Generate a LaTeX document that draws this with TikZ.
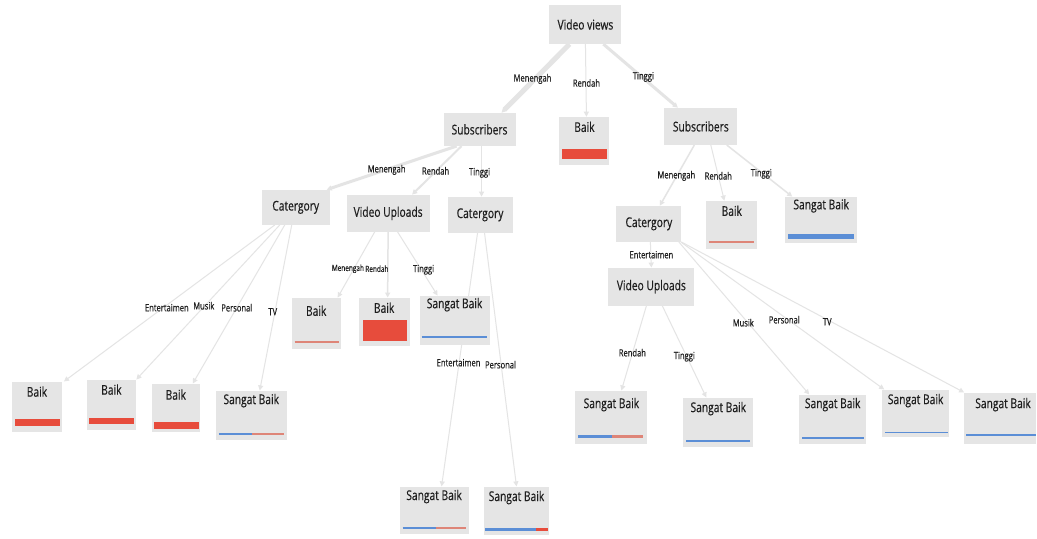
\documentclass[tikz,border=0pt]{standalone}
\usepackage{fontspec}
\setmainfont{Open Sans}[FakeStretch=0.76, FakeBold=0.4]
\usetikzlibrary{arrows.meta}
\pgfdeclarelayer{edgelayer}
\pgfsetlayers{edgelayer,main}
\definecolor{boxgray}{HTML}{E5E5E5}
\definecolor{edgegray}{HTML}{E4E4E4}
\definecolor{barred}{HTML}{E74C3C}
\definecolor{thinred}{HTML}{DE8578}
\definecolor{barblue}{HTML}{5B8ED6}
\definecolor{txt}{HTML}{1E1E1E}
\tikzset{
  box/.style={fill=boxgray, draw=none, inner sep=0pt, text=txt, font=\fontsize{13.5}{14}\selectfont},
  lbl/.style={inner sep=0pt, text=txt, font=\fontsize{13.5}{14}\selectfont},
  elbl/.style={inner sep=0pt, text=txt, font=\fontsize{10}{11}\selectfont},
  selbl/.style={inner sep=0pt, text=txt, font=\fontsize{8.5}{9}\selectfont},
  edge/.style={draw=edgegray, line width=1pt, -{Triangle[length=5pt,width=5pt]}},
}
\begin{document}
\begin{tikzpicture}[x=1pt,y=-1pt]
\begin{pgfonlayer}{edgelayer}
\useasboundingbox[fill=white] (0,0) rectangle (1037,539);
\end{pgfonlayer}

% internal nodes
\node[box, minimum width=72pt, minimum height=39pt] (V) at (586,24.5) {Video views};
\node[box, minimum width=72pt, minimum height=33pt] (S1) at (480,129.5) {Subscribers};
\node[box, minimum width=73pt, minimum height=37pt] (S2) at (701.5,126.5) {Subscribers};
\node[box, minimum width=68pt, minimum height=35pt] (C1) at (296,207.5) {Catergory};
\node[box, minimum width=83pt, minimum height=37pt] (U1) at (388.5,213.5) {Video Uploads};
\node[box, minimum width=65pt, minimum height=36pt] (C2) at (480.5,215) {Catergory};
\node[box, minimum width=65pt, minimum height=36pt] (C3) at (649.5,224) {Catergory};
\node[box, minimum width=86pt, minimum height=38pt] (U2) at (652,287) {Video Uploads};

% leaves
\node[box, minimum width=50pt, minimum height=48pt] (L1) at (585,141) {};
\node[lbl] (L1t) at (585,127) {Baik};
\fill[barred] (563,149.5) rectangle (608,159);

\node[box, minimum width=51pt, minimum height=48pt] (L2) at (732.5,225) {};
\node[lbl] (L2t) at (732.5,211) {Baik};
\draw[thinred, line width=1.5pt] (710,242) -- (755,242);

\node[box, minimum width=72pt, minimum height=46pt] (L3) at (822,220) {};
\node[lbl] (L3t) at (822,206) {Sangat Baik};
\fill[barblue] (789,234) rectangle (855,239);

\node[box, minimum width=49pt, minimum height=51pt] (L4) at (316.5,323.5) {};
\node[lbl] (L4t) at (316.5,311) {Baik};
\draw[thinred, line width=2pt] (295,342) -- (339,342);

\node[box, minimum width=51pt, minimum height=48pt] (L5) at (384.5,322) {};
\node[lbl] (L5t) at (384.5,308) {Baik};
\fill[barred] (363,320) rectangle (407,341);

\node[box, minimum width=70pt, minimum height=49pt] (L6) at (455,320.5) {};
\node[lbl] (L6t) at (455,305) {Sangat Baik};
\draw[barblue, line width=2pt] (422,337.5) -- (487,337.5);

\node[box, minimum width=50pt, minimum height=50pt] (L7) at (37,407) {};
\node[lbl] (L7t) at (37,392) {Baik};
\fill[barred] (15,419) rectangle (60,426);

\node[box, minimum width=49pt, minimum height=50pt] (L8) at (111.5,405) {};
\node[lbl] (L8t) at (111.5,390) {Baik};
\fill[barred] (89,418) rectangle (134,424);

\node[box, minimum width=48pt, minimum height=48pt] (L9) at (176,408) {};
\node[lbl] (L9t) at (176,395) {Baik};
\fill[barred] (154,422) rectangle (199,429);

\node[box, minimum width=71pt, minimum height=49pt] (L10) at (251.5,415.5) {};
\node[lbl] (L10t) at (251.5,401) {Sangat Baik};
\draw[barblue, line width=2pt] (219,434) -- (252,434);
\draw[thinred, line width=2pt] (252,434) -- (284,434);

\node[box, minimum width=72pt, minimum height=53pt] (L11) at (612,417.5) {};
\node[lbl] (L11t) at (612,405) {Sangat Baik};
\draw[barblue, line width=2.5pt] (579,437) -- (613,437);
\draw[thinred, line width=2.5pt] (613,437) -- (644,437);

\node[box, minimum width=70pt, minimum height=49pt] (L12) at (719,422.5) {};
\node[lbl] (L12t) at (719,409) {Sangat Baik};
\draw[barblue, line width=2pt] (687,441) -- (751,441);

\node[box, minimum width=67pt, minimum height=49pt] (L13) at (833.5,419.5) {};
\node[lbl] (L13t) at (833.5,405) {Sangat Baik};
\draw[barblue, line width=2pt] (803,438) -- (865,438);

\node[box, minimum width=67pt, minimum height=47pt] (L14) at (916.5,413.5) {};
\node[lbl] (L14t) at (916.5,401) {Sangat Baik};
\draw[barblue, line width=1.5pt] (886,433) -- (949,433);

\node[box, minimum width=72pt, minimum height=51pt] (L15) at (1001,418.5) {};
\node[lbl] (L15t) at (1004,405) {Sangat Baik};
\draw[barblue, line width=2pt] (967,435) -- (1037,435);

\node[box, minimum width=69pt, minimum height=48pt] (L16) at (434.5,511) {};
\node[lbl] (L16t) at (434.5,497) {Sangat Baik};
\draw[barblue, line width=2pt] (403,528) -- (436,528);
\draw[thinred, line width=2pt] (436,528) -- (466,528);

\node[box, minimum width=66pt, minimum height=49pt] (L17) at (517,511.5) {};
\node[lbl] (L17t) at (517,498) {Sangat Baik};
\fill[barblue] (485,528) rectangle (537,532);
\fill[barred] (537,528) rectangle (549,532);

% edges (behind the boxes)
\begin{pgfonlayer}{edgelayer}
\draw[edge, line width=5pt] ([xshift=-16pt]V.south) -- ([xshift=22pt]S1.north);
\draw[edge] (V.south) -- ([xshift=2pt]L1.north);
\draw[edge, line width=3pt] ([xshift=18pt]V.south) -- ([xshift=-23pt]S2.north);

\draw[edge, line width=3pt] ([xshift=-23pt]S1.south) -- ([xshift=31pt]C1.north);
\draw[edge, line width=2pt] ([xshift=-18pt]S1.south) -- ([xshift=24pt]U1.north);
\draw[edge] ([xshift=2pt]S1.south) -- ([xshift=1.5pt]C2.north);

\draw[edge, line width=1.5pt] ([xshift=-6.5pt]S2.south) -- ([xshift=11pt]C3.north);
\draw[edge] ([xshift=10pt]S2.south) -- ([xshift=-7.5pt]L2.north);
\draw[edge, line width=1.5pt] ([xshift=26pt]S2.south) -- ([xshift=-29pt]L3.north);

\draw[edge] ([xshift=-21pt]C1.south) -- ([xshift=27pt]L7.north);
\draw[edge] ([xshift=-16pt]C1.south) -- ([xshift=25pt]L8.north);
\draw[edge] ([xshift=-11pt]C1.south) -- ([xshift=17pt]L9.north);
\draw[edge] ([xshift=-4pt]C1.south) -- ([xshift=8.5pt]L10.north);

\draw[edge] ([xshift=-13.5pt]U1.south) -- ([xshift=21.5pt]L4.north);
\draw[edge, line width=1.5pt] (U1.south) -- ([xshift=3.5pt]L5.north);
\draw[edge] ([xshift=9.5pt]U1.south) -- ([xshift=-17pt]L6.north);

\draw[edge] ([xshift=-2.5pt]C2.south) -- ([xshift=7.5pt]L16.north);
\draw[edge] ([xshift=4.5pt]C2.south) -- (L17.north);

\draw[edge] ([xshift=1.5pt]C3.south) -- (U2.north);
\draw[edge] ([xshift=30pt]C3.south) -- ([xshift=-23.5pt]L13.north);
\draw[edge] ([xshift=32pt]C3.south) -- ([xshift=-31.5pt]L14.north);
\draw[edge] ([xshift=32.5pt]C3.south) -- ([xshift=-36pt]L15.north);

\draw[edge] ([xshift=-5pt]U2.south) -- ([xshift=10pt]L11.north);
\draw[edge] ([xshift=11pt]U2.south) -- ([xshift=-12pt]L12.north);
\end{pgfonlayer}

% edge labels
\node[elbl] (e1) at (533,79) {Menengah};
\node[elbl] (e2) at (587,83) {Rendah};
\node[elbl] (e3) at (644,77) {Tinggi};
\node[elbl] (e4) at (387,170) {Menengah};
\node[elbl] (e5) at (436,171) {Rendah};
\node[elbl] (e6) at (480,173) {Tinggi};
\node[elbl] (e7) at (677,176) {Menengah};
\node[elbl] (e8) at (719,176) {Rendah};
\node[elbl] (e9) at (762,174) {Tinggi};
\node[elbl] (e10) at (167,308) {Entertaimen};
\node[elbl] (e11) at (204,306) {Musik};
\node[elbl] (e12) at (237,308) {Personal};
\node[elbl] (e13) at (273,312) {TV};
\node[selbl, anchor=east] (e14) at (364.5,269) {Menengah};
\node[selbl, anchor=west] (e15) at (365.5,269) {Rendah};
\node[elbl] (e16) at (424,270) {Tinggi};
\node[elbl] (e17) at (459,363) {Entertaimen};
\node[elbl] (e18) at (501,365) {Personal};
\node[elbl] (e19) at (652,255) {Entertaimen};
\node[elbl] (e20) at (744,323) {Musik};
\node[elbl] (e21) at (785,320) {Personal};
\node[elbl] (e22) at (828,322) {TV};
\node[elbl] (e23) at (633,353) {Rendah};
\node[elbl] (e24) at (685,357) {Tinggi};
\end{tikzpicture}
\end{document}
